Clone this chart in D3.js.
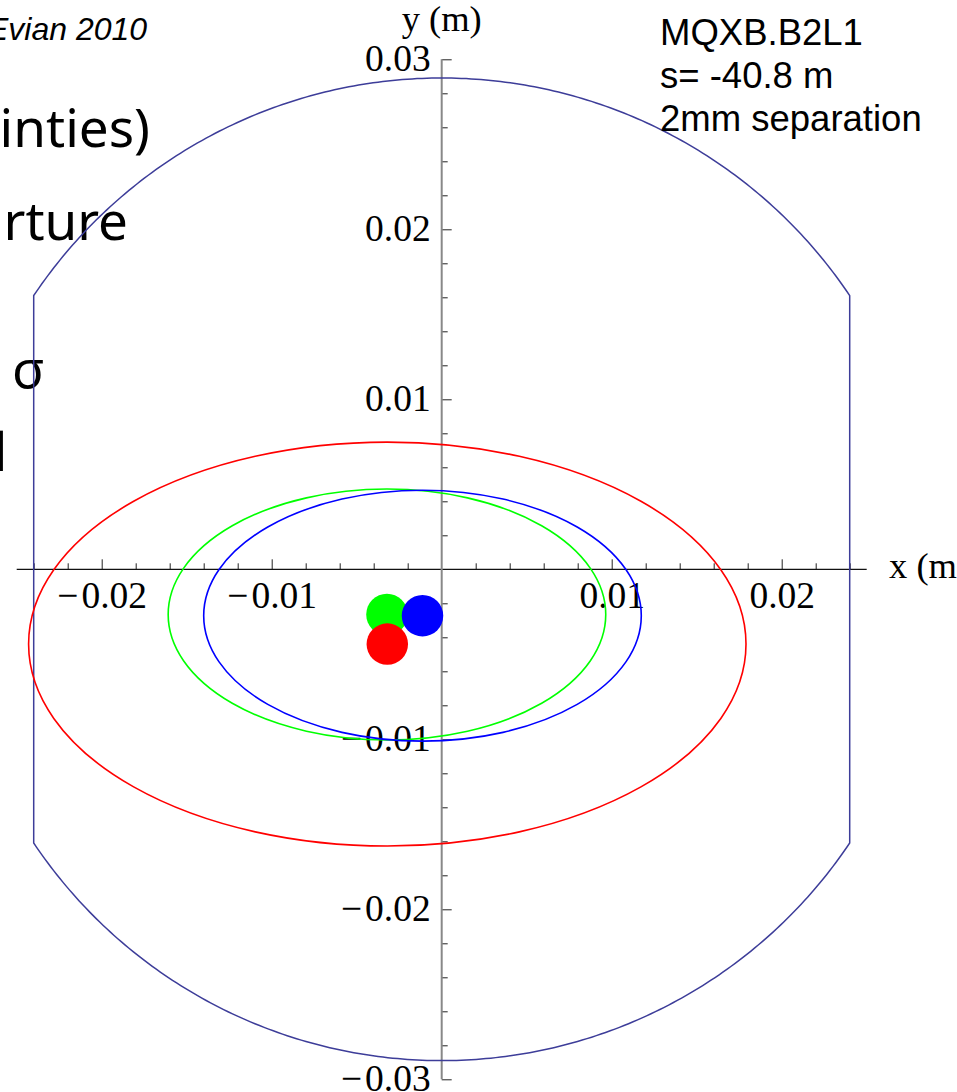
<!DOCTYPE html>
<html>
<head>
<meta charset="utf-8">
<script src="https://cdn.jsdelivr.net/npm/d3@7"></script>
<style>
  html, body { margin: 0; padding: 0; background: #fff; overflow: hidden; }
  svg { display: block; }
</style>
</head>
<body>
<svg id="chart" width="957" height="1092"></svg>
<script>
// ---------------- data ----------------
// beams: name, colour, beam centre (m), 1-sigma-envelope ellipse semi-axes (m)
const beamNames   = ["green", "blue", "red"];
const beamColors  = ["#00ff00", "#0000ff", "#ff0000"];
const beamCx      = [-0.00322, -0.00113, -0.00320];
const beamCy      = [-0.00266, -0.00273, -0.00440];
const envSemiX    = [0.01287, 0.01287, 0.02110];
const envSemiY    = [0.00738, 0.00738, 0.01188];
const dotRadius   = 0.00122;

// aperture (rect-ellipse): half width and circle radius (m)
const apertureHalfWidth = 0.0240;
const apertureRadius    = 0.0289;

// axes
const xDomain = [-0.025, 0.025];
const yDomain = [-0.03, 0.03];
const xMajorTicks = [-0.02, -0.01, 0.01, 0.02];
const yMajorTicks = [-0.03, -0.02, -0.01, 0.01, 0.02, 0.03];
const minorStep = 0.002;

// texts
const infoLines = ["MQXB.B2L1", "s= -40.8 m", "2mm separation"];
const slideText = ["inties)", "rture", "σ", "l"];
const headerText = "Evian 2010";

// ---------------- drawing ----------------
const svg = d3.select("#chart");
svg.append("rect").attr("width", 957).attr("height", 1092).attr("fill", "#fff");

const x = d3.scaleLinear().domain(xDomain).range([16.7, 866.7]);
const y = d3.scaleLinear().domain(yDomain).range([1079.3, 59.3]);

// background slide fragments
const slide = svg.append("g").attr("font-family", "'Noto Sans', 'Open Sans', sans-serif")
  .attr("font-size", 53).attr("fill", "#000");
slide.append("text").attr("x", 150).attr("y", 146.7).attr("text-anchor", "end").text(slideText[0]);
slide.append("text").attr("x", 128).attr("y", 240).attr("text-anchor", "end").text(slideText[1]);
slide.append("text").attr("x", 12).attr("y", 388).text(slideText[2]);
slide.append("text").attr("x", -6.2).attr("y", 471).text(slideText[3]);

svg.append("text").attr("x", -13).attr("y", 40)
  .attr("font-family", "'Liberation Sans', Arial, sans-serif")
  .attr("font-style", "italic").attr("font-size", 32).attr("fill", "#000")
  .text(headerText);

// axes
const minorX = d3.range(-0.024, 0.0241, minorStep).filter(v => Math.abs(v) > 1e-9 && !xMajorTicks.some(m => Math.abs(m - v) < 1e-9));
const minorY = d3.range(-0.03, 0.0301, minorStep).filter(v => Math.abs(v) > 1e-9 && !yMajorTicks.some(m => Math.abs(m - v) < 1e-9));

const fmt = d => (d < 0 ? "\u2212" : "") + Math.abs(d).toString();

const gx = svg.append("g").attr("transform", `translate(0,${y(0)})`);
gx.call(d3.axisBottom(x).tickValues(minorX).tickSize(-6).tickFormat(""));
gx.call(g => g.select(".domain").remove());
const gxM = svg.append("g").attr("transform", `translate(0,${y(0)})`);
gxM.call(d3.axisBottom(x).tickValues(xMajorTicks).tickSize(-10).tickFormat(fmt));
gxM.call(g => g.select(".domain").remove());
svg.append("line").attr("x1", x(xDomain[0])).attr("x2", x(xDomain[1]))
  .attr("y1", y(0)).attr("y2", y(0)).attr("stroke", "#111").attr("stroke-width", 1.2);

const gy = svg.append("g").attr("transform", `translate(${x(0)},0)`);
gy.call(d3.axisLeft(y).tickValues(minorY).tickSize(-6).tickFormat(""));
gy.call(g => g.select(".domain").remove());
const gyM = svg.append("g").attr("transform", `translate(${x(0)},0)`);
gyM.call(d3.axisLeft(y).tickValues(yMajorTicks).tickSize(-10).tickFormat(fmt));
gyM.call(g => g.select(".domain").remove());
svg.append("line").attr("x1", x(0)).attr("x2", x(0))
  .attr("y1", y(yDomain[0])).attr("y2", y(yDomain[1])).attr("stroke", "#888").attr("stroke-width", 2);

[gx, gxM, gy, gyM].forEach(g => g.selectAll(".tick line").attr("stroke", "#222").attr("stroke-width", 1));

// style tick labels (Mathematica-like serif)
function styleLabels(g, isX) {
  g.selectAll(".tick text").each(function(d) {
    const t = d3.select(this);
    t.attr("font-family", "'Liberation Serif', 'Times New Roman', serif")
     .attr("font-size", 37.5).attr("fill", "#000").attr("dy", null);
    if (isX) { t.attr("y", 38.7).attr("text-anchor", "middle"); }
    else { t.attr("x", -11).attr("y", 11).attr("text-anchor", "end"); }
    if (d < 0) {
      t.text(null);
      t.append("tspan").text("\u2212");
      t.append("tspan").attr("dx", 3).text(Math.abs(d).toString());
    }
  });
  g.attr("font-size", null).attr("font-family", null);
}
styleLabels(gxM, true);
styleLabels(gyM, false);

// axis labels
svg.append("text").attr("x", x(0)).attr("y", 31).attr("text-anchor", "middle")
  .attr("font-family", "'Liberation Serif', 'Times New Roman', serif").attr("font-size", 36.5)
  .text("y (m)");
svg.append("text").attr("x", 889).attr("y", 578)
  .attr("font-family", "'Liberation Serif', 'Times New Roman', serif").attr("font-size", 36.5)
  .text("x (m)");

// aperture
const t0 = Math.acos(apertureHalfWidth / apertureRadius);
const topArc = d3.range(t0, Math.PI - t0, 0.01).concat([Math.PI - t0]);
const botArc = d3.range(Math.PI + t0, 2 * Math.PI - t0, 0.01).concat([2 * Math.PI - t0]);
const apPts = topArc.concat(botArc).map(t => [apertureRadius * Math.cos(t), apertureRadius * Math.sin(t)]);
svg.append("path")
  .attr("d", d3.line().x(p => x(p[0])).y(p => y(p[1])).curve(d3.curveLinearClosed)(apPts))
  .attr("fill", "none").attr("stroke", "#3d3d99").attr("stroke-width", 1.5);

// envelope ellipses
const beams = beamNames.map((n, i) => ({ n, c: beamColors[i], cx: beamCx[i], cy: beamCy[i], a: envSemiX[i], b: envSemiY[i] }));
svg.append("g").selectAll("ellipse").data(beams).join("ellipse")
  .attr("cx", d => x(d.cx)).attr("cy", d => y(d.cy))
  .attr("rx", d => x(d.cx + d.a) - x(d.cx)).attr("ry", d => y(d.cy) - y(d.cy + d.b))
  .attr("fill", "none").attr("stroke", d => d.c).attr("stroke-width", 1.6);

// beam dots
svg.append("g").selectAll("circle").data(beams).join("circle")
  .attr("cx", d => x(d.cx)).attr("cy", d => y(d.cy))
  .attr("r", x(dotRadius) - x(0))
  .attr("fill", d => d.c);

// info text
svg.append("g").selectAll("text").data(infoLines).join("text")
  .attr("x", 660).attr("y", (d, i) => 45 + i * 43)
  .attr("font-family", "'Liberation Sans', Arial, sans-serif").attr("font-size", 36.5).attr("fill", "#000")
  .text(d => d);
</script>
</body>
</html>
